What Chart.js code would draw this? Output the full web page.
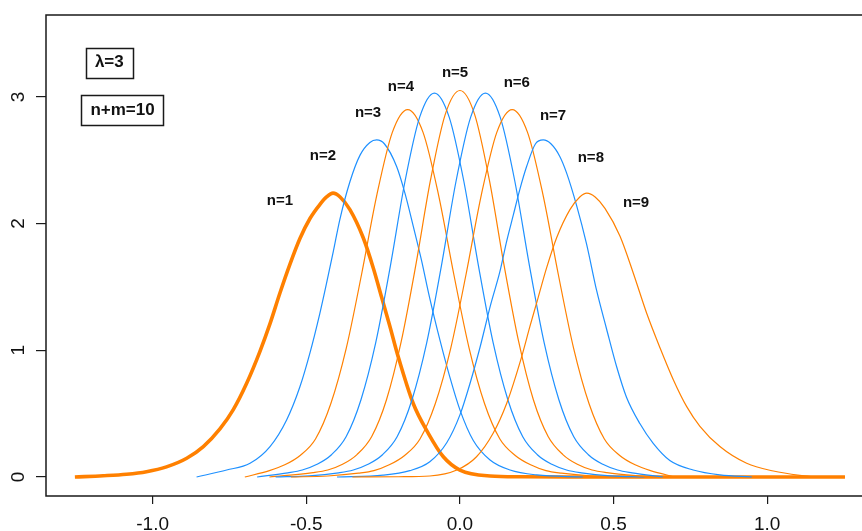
<!DOCTYPE html>
<html>
<head>
<meta charset="utf-8">
<script src="https://cdn.jsdelivr.net/npm/chart.js@4/dist/chart.umd.min.js"></script>
<style>
  html, body { margin: 0; padding: 0; background: #ffffff; overflow: hidden; }
  #wrap { width: 862px; height: 531px; }
</style>
</head>
<body>
<div id="wrap"><canvas id="c" width="862" height="531"></canvas></div>
<script>
// ---------- data ----------
const n1X = [-1.253, -1.161, -1.085, -1.02, -0.955, -0.889, -0.835, -0.781, -0.738, -0.694, -0.651, -0.618, -0.586, -0.553, -0.521, -0.488, -0.456, -0.434, -0.413, -0.39, -0.358, -0.315, -0.282, -0.255, -0.228, -0.201, -0.152, -0.103, -0.054, 0, 0.098, 0.2, 0.35, 1.253];
const n1Y = [0, 0.01, 0.022, 0.042, 0.08, 0.148, 0.24, 0.38, 0.53, 0.74, 0.99, 1.21, 1.45, 1.68, 1.88, 2.04, 2.15, 2.21, 2.24, 2.21, 2.11, 1.89, 1.65, 1.42, 1.19, 0.95, 0.58, 0.345, 0.16, 0.055, 0.008, 0.002, 0, 0];

const n2X = [-0.857, -0.759, -0.683, -0.618, -0.564, -0.521, -0.488, -0.456, -0.434, -0.412, -0.391, -0.358, -0.325, -0.293, -0.271, -0.246, -0.206, -0.179, -0.152, -0.125, -0.1, -0.065, -0.033, 0, 0.043, 0.098, 0.163, 0.25, 0.4];
const n2Y = [0, 0.055, 0.108, 0.24, 0.45, 0.71, 0.98, 1.29, 1.53, 1.78, 2.03, 2.33, 2.54, 2.64, 2.66, 2.63, 2.45, 2.24, 1.98, 1.71, 1.43, 1.08, 0.79, 0.53, 0.29, 0.134, 0.055, 0.016, 0];

const n3X = [-0.70, -0.62, -0.57, -0.52, -0.47, -0.42, -0.37, -0.32, -0.27, -0.22, -0.17, -0.12, -0.07, -0.02, 0.03, 0.08, 0.13, 0.18, 0.23, 0.28, 0.33, 0.43, 0.55];
const n3Y = [0, 0.05, 0.096, 0.17, 0.30, 0.58, 1.015, 1.60, 2.23, 2.72, 2.90, 2.72, 2.23, 1.60, 1.015, 0.58, 0.30, 0.17, 0.096, 0.05, 0.03, 0.008, 0];

const n4X = [-0.66, -0.56, -0.513, -0.465, -0.418, -0.37, -0.322, -0.274, -0.226, -0.179, -0.131, -0.083, -0.035, 0.013, 0.06, 0.108, 0.156, 0.204, 0.252, 0.299, 0.347, 0.395, 0.49, 0.6];
const n4Y = [0, 0.033, 0.055, 0.10, 0.176, 0.32, 0.61, 1.06, 1.67, 2.33, 2.84, 3.03, 2.84, 2.33, 1.67, 1.06, 0.61, 0.32, 0.176, 0.10, 0.055, 0.033, 0.009, 0];

const n5X = [-0.62, -0.478, -0.43, -0.382, -0.335, -0.287, -0.239, -0.191, -0.143, -0.096, -0.048, 0, 0.048, 0.096, 0.143, 0.191, 0.239, 0.287, 0.335, 0.382, 0.43, 0.478, 0.62];
const n5Y = [0, 0.034, 0.055, 0.10, 0.177, 0.32, 0.61, 1.07, 1.68, 2.34, 2.86, 3.05, 2.86, 2.34, 1.68, 1.07, 0.61, 0.32, 0.177, 0.10, 0.055, 0.034, 0];

const n6X = [-0.6, -0.49, -0.395, -0.347, -0.299, -0.252, -0.204, -0.156, -0.108, -0.06, -0.013, 0.035, 0.083, 0.131, 0.179, 0.226, 0.274, 0.322, 0.37, 0.418, 0.465, 0.513, 0.56, 0.66];
const n6Y = [0, 0.009, 0.033, 0.055, 0.10, 0.176, 0.32, 0.61, 1.06, 1.67, 2.33, 2.84, 3.03, 2.84, 2.33, 1.67, 1.06, 0.61, 0.32, 0.176, 0.10, 0.055, 0.033, 0];

const n7X = [-0.55, -0.43, -0.33, -0.28, -0.23, -0.18, -0.13, -0.08, -0.03, 0.02, 0.07, 0.12, 0.17, 0.22, 0.27, 0.32, 0.37, 0.42, 0.47, 0.52, 0.57, 0.62, 0.70];
const n7Y = [0, 0.008, 0.03, 0.05, 0.096, 0.17, 0.30, 0.58, 1.015, 1.60, 2.23, 2.72, 2.90, 2.72, 2.23, 1.60, 1.015, 0.58, 0.30, 0.17, 0.096, 0.05, 0];

const n8X = [-0.4, -0.25, -0.163, -0.098, -0.043, 0, 0.033, 0.065, 0.1, 0.13, 0.152, 0.174, 0.195, 0.217, 0.246, 0.271, 0.296, 0.325, 0.347, 0.38, 0.412, 0.445, 0.477, 0.51, 0.542, 0.586, 0.629, 0.683, 0.759, 0.846, 0.95];
const n8Y = [0, 0.014, 0.05, 0.12, 0.27, 0.49, 0.74, 1.02, 1.36, 1.62, 1.86, 2.07, 2.27, 2.45, 2.63, 2.66, 2.63, 2.53, 2.40, 2.14, 1.84, 1.47, 1.17, 0.87, 0.63, 0.42, 0.265, 0.13, 0.055, 0.016, 0];

const n9X = [-0.35, -0.2, -0.098, -0.01, 0.054, 0.108, 0.152, 0.201, 0.228, 0.255, 0.282, 0.315, 0.358, 0.39, 0.413, 0.44, 0.472, 0.521, 0.564, 0.608, 0.651, 0.694, 0.738, 0.781, 0.846, 0.933, 1.02, 1.106, 1.16];
const n9Y = [0, 0.002, 0.008, 0.055, 0.16, 0.345, 0.58, 0.95, 1.19, 1.42, 1.65, 1.89, 2.11, 2.21, 2.24, 2.21, 2.12, 1.90, 1.61, 1.29, 1.02, 0.77, 0.555, 0.40, 0.24, 0.108, 0.047, 0.013, 0];

const curveLabels = ['n=1', 'n=2', 'n=3', 'n=4', 'n=5', 'n=6', 'n=7', 'n=8', 'n=9'];
const labelX = [-0.586, -0.446, -0.299, -0.192, -0.016, 0.185, 0.303, 0.426, 0.573];
const labelY = [2.178, 2.534, 2.873, 3.078, 3.193, 3.110, 2.849, 2.518, 2.163];

const boxTexts = ['\u03BB=3', 'n+m=10'];
const boxX = [-1.141, -1.098];
const boxY = [3.27, 2.897];

const xTickValues = [-1.0, -0.5, 0.0, 0.5, 1.0];
const xTickLabels = ['-1.0', '-0.5', '0.0', '0.5', '1.0'];
const yTickValues = [0, 1, 2, 3];
const yTickLabels = ['0', '1', '2', '3'];

// ---------- styling ----------
const ORANGE = '#FF8000';
const BLUE = '#1E90FF';
const FONT = "'Liberation Sans', Arial, Helvetica, sans-serif";

const seriesX = [n1X, n2X, n3X, n4X, n5X, n6X, n7X, n8X, n9X];
const seriesY = [n1Y, n2Y, n3Y, n4Y, n5Y, n6Y, n7Y, n8Y, n9Y];

const datasets = seriesX.map((xs, i) => ({
  label: curveLabels[i],
  data: xs.map((x, j) => ({ x: x, y: seriesY[i][j] })),
  borderColor: i % 2 === 0 ? ORANGE : BLUE,
  borderWidth: i === 0 ? 3.6 : 1.2,
  pointRadius: 0,
  fill: false,
  cubicInterpolationMode: 'monotone',
  order: 9 - i
}));

const annotate = {
  id: 'annotate',
  afterDatasetsDraw(chart) {
    const ctx = chart.ctx;
    const xs = chart.scales.x, ys = chart.scales.y;
    const a = chart.chartArea;
    ctx.save();
    // frame (right edge falls outside the window)
    ctx.strokeStyle = '#1a1a1a';
    ctx.lineWidth = 1.5;
    ctx.beginPath();
    ctx.moveTo(a.right + 20, a.top);
    ctx.lineTo(a.left, a.top);
    ctx.lineTo(a.left, a.bottom);
    ctx.lineTo(a.right + 20, a.bottom);
    ctx.stroke();

    // curve labels
    ctx.fillStyle = '#111';
    ctx.font = 'bold 15px ' + FONT;
    ctx.textAlign = 'center';
    ctx.textBaseline = 'middle';
    curveLabels.forEach((t, i) => {
      ctx.fillText(t, xs.getPixelForValue(labelX[i]), ys.getPixelForValue(labelY[i]));
    });

    // boxed notes
    ctx.font = 'bold 17px ' + FONT;
    boxTexts.forEach((t, i) => {
      const cx = xs.getPixelForValue(boxX[i]);
      const cy = ys.getPixelForValue(boxY[i]);
      const w = ctx.measureText(t).width + 18;
      const h = 30;
      ctx.fillText(t, cx, cy);
      ctx.lineWidth = 1.5;
      ctx.strokeRect(Math.round(cx - w / 2) + 0.5, Math.round(cy - h / 2) + 0.5, Math.round(w), h);
    });
    ctx.restore();
  }
};

new Chart(document.getElementById('c'), {
  type: 'line',
  data: { datasets: datasets },
  options: {
    responsive: false,
    devicePixelRatio: 1,
    animation: false,
    layout: { padding: { top: 15, left: 0, right: 0, bottom: 0 } },
    plugins: { legend: { display: false }, tooltip: { enabled: false } },
    scales: {
      x: {
        type: 'linear',
        min: -1.347,
        max: 1.3084,
        afterBuildTicks: s => { s.ticks = xTickValues.map(v => ({ value: v })); },
        afterFit: s => { s.height = 35; s.paddingLeft = 0; s.paddingRight = 0; },
        ticks: {
          callback: (v) => xTickLabels[xTickValues.indexOf(v)],
          color: '#111',
          font: { family: FONT, size: 19 },
          padding: 9,
          maxRotation: 0,
          autoSkip: false
        },
        grid: { drawOnChartArea: false, drawTicks: true, tickLength: 8, tickColor: '#1a1a1a', lineWidth: 1.2 },
        border: { display: false }
      },
      y: {
        type: 'linear',
        min: -0.15,
        max: 3.646,
        afterBuildTicks: s => { s.ticks = yTickValues.map(v => ({ value: v })); },
        afterFit: s => { s.width = 46; s.paddingTop = 0; s.paddingBottom = 0; },
        ticks: {
          callback: (v) => yTickLabels[yTickValues.indexOf(v)],
          color: '#111',
          font: { family: FONT, size: 19 },
          minRotation: 90,
          maxRotation: 90,
          crossAlign: 'center',
          padding: 12,
          autoSkip: false
        },
        grid: { drawOnChartArea: false, drawTicks: true, tickLength: 10, tickColor: '#1a1a1a', lineWidth: 1.2 },
        border: { display: false }
      }
    }
  },
  plugins: [annotate]
});
</script>
</body>
</html>
